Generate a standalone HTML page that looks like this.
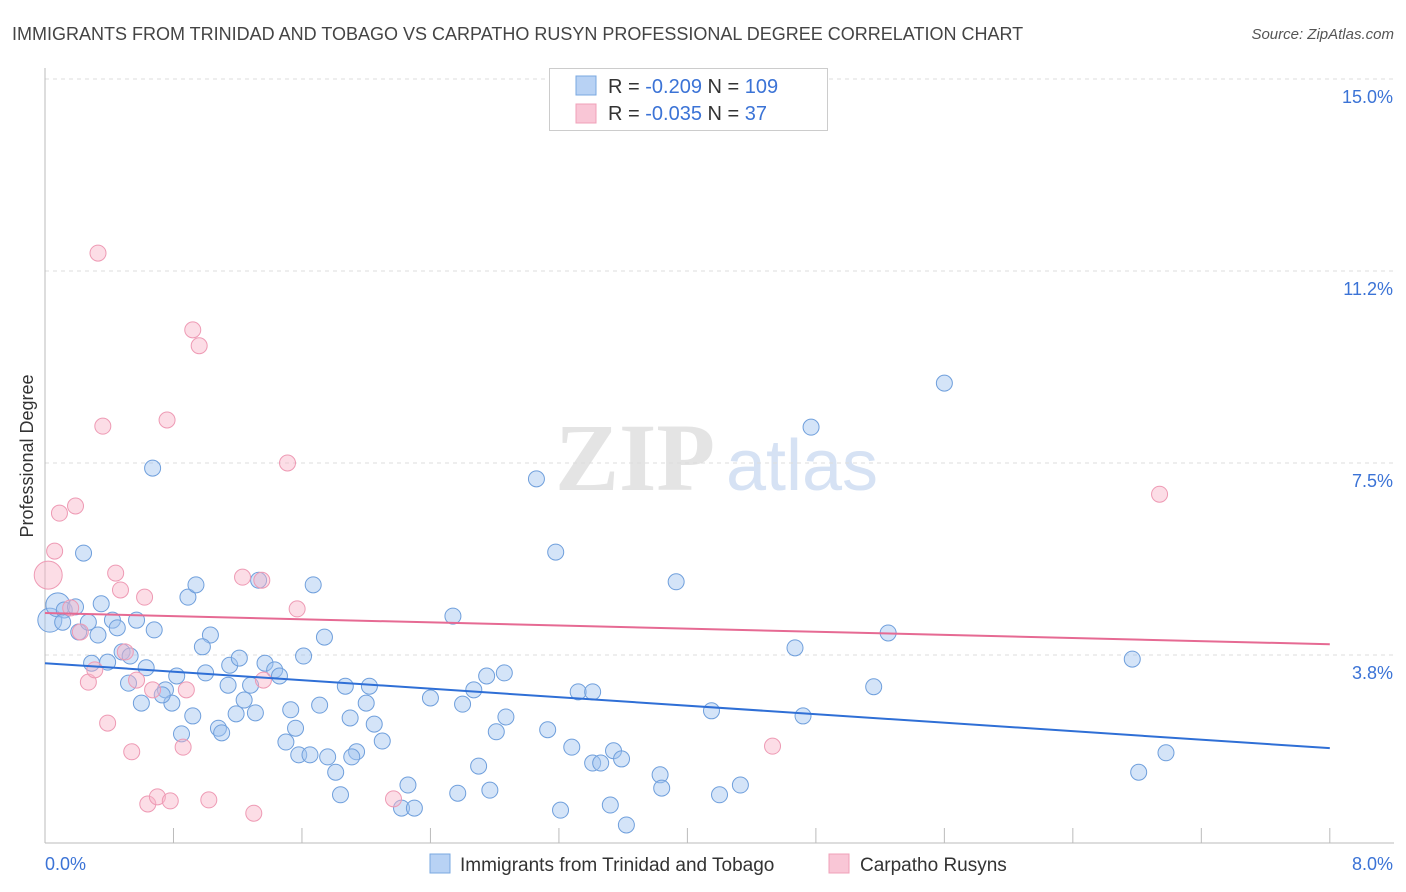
<!DOCTYPE html>
<html><head><meta charset="utf-8">
<style>
body{margin:0;background:#fff;font-family:"Liberation Sans",sans-serif;}
svg{display:block}
</style></head><body>
<svg id="c" width="1406" height="892" xmlns="http://www.w3.org/2000/svg">
<text x="12" y="40" font-size="18" fill="#444">IMMIGRANTS FROM TRINIDAD AND TOBAGO VS CARPATHO RUSYN PROFESSIONAL DEGREE CORRELATION CHART</text>
<text x="1394" y="39" font-size="15" fill="#555" font-style="italic" text-anchor="end">Source: ZipAtlas.com</text>
<text x="33" y="456" font-size="18" fill="#333" text-anchor="middle" transform="rotate(-90 33 456)">Professional Degree</text>
<g>
<text x="635" y="490" font-size="96" fill="#e4e4e4" text-anchor="middle" font-family="Liberation Serif,serif" font-weight="bold">ZIP</text>
<text x="802" y="490" font-size="72" fill="#d6e2f4" text-anchor="middle">atlas</text>
</g>
<g id="grid"></g>
<g id="axes"></g>
<g id="pts"></g>
<g id="lines"></g>
<g>
<rect x="549.5" y="68.5" width="278" height="62" fill="#fff" stroke="#ccc"/>
<rect x="576" y="76" width="20" height="19" fill="#b8d2f4" stroke="#7aa8e0"/>
<rect x="576" y="104" width="20" height="19" fill="#f9c6d6" stroke="#f0a0b8"/>
<text x="608" y="93" font-size="20" fill="#333">R = <tspan fill="#3b73d6">-0.209</tspan>   N = <tspan fill="#3b73d6">109</tspan></text>
<text x="608" y="120" font-size="20" fill="#333">R = <tspan fill="#3b73d6">-0.035</tspan>   N = <tspan fill="#3b73d6">  37</tspan></text>
</g>
<g>
<rect x="430" y="854" width="20" height="19" fill="#b8d2f4" stroke="#7aa8e0"/>
<text x="460" y="871" font-size="19" fill="#333">Immigrants from Trinidad and Tobago</text>
<rect x="829" y="854" width="20" height="19" fill="#f9c6d6" stroke="#f0a0b8"/>
<text x="860" y="871" font-size="19" fill="#333">Carpatho Rusyns</text>
</g>
</svg>
<script>
const blueX=[.03,.08,.12,.19,.11,.21,.27,.35,.33,.24,.42,.45,.57,.68,.67,.29,.39,.48,.53,.63,.52,.60,.75,.79,.82,.73,.89,.94,1.03,.98,1.00,.92,.85,1.08,1.10,1.14,1.15,1.21,1.19,1.24,1.28,1.31,1.33,1.37,1.43,1.46,1.53,1.56,1.50,1.58,1.65,1.61,1.67,1.71,1.74,1.76,1.81,1.84,1.87,1.90,1.94,1.91,2.00,2.02,2.05,2.10,2.26,2.22,2.30,2.40,2.54,2.57,2.60,2.67,2.70,2.75,2.77,2.81,2.86,2.87,3.06,3.13,3.18,3.21,3.28,3.32,3.41,3.41,3.46,3.52,3.54,3.59,3.62,3.83,3.84,3.93,4.15,4.20,4.33,4.67,4.72,4.77,5.16,5.25,5.60,6.77,6.81,6.98];
const blueY=[4.43,4.73,4.63,4.69,4.39,4.20,4.39,4.75,4.14,5.74,4.43,4.28,4.43,4.24,7.40,3.59,3.61,3.81,3.73,3.50,3.20,2.81,3.07,2.81,3.34,2.97,4.88,5.12,4.14,3.91,3.40,2.56,2.21,2.32,2.23,3.16,3.55,3.69,2.60,2.87,3.16,2.62,5.21,3.59,3.46,3.34,2.68,2.32,2.05,1.80,1.80,3.73,5.12,2.77,4.10,1.76,1.46,1.02,3.14,2.52,1.86,1.76,2.81,3.14,2.40,2.07,1.21,.76,.76,2.91,4.51,1.05,2.79,3.07,1.58,3.34,1.11,2.25,3.40,2.54,7.19,2.29,5.76,.72,1.95,3.03,3.03,1.64,1.64,.82,1.88,1.72,.43,1.41,1.15,5.18,2.66,1.02,1.21,3.89,2.56,8.20,3.13,4.18,9.06,3.67,1.46,1.84];
const pinkX=[.02,.06,.09,.19,.16,.22,.33,.36,.44,.47,.62,.27,.31,.39,.54,.50,.57,.67,.76,.88,.86,.92,.96,.64,.70,.78,1.02,1.23,1.35,1.36,1.51,1.57,1.30,2.17,4.53,6.94];
const pinkY=[5.31,5.78,6.52,6.66,4.67,4.20,11.60,8.22,5.35,5.02,4.88,3.22,3.46,2.42,1.86,3.81,3.26,3.07,8.34,3.07,1.95,10.10,9.79,.84,.98,.90,.92,5.27,5.21,3.26,7.50,4.65,.66,.94,1.97,6.89];
const blueLine=[3.59,1.93];
const pinkLine=[4.57,3.96];
const yTicks=[3.75,7.5,11.25,15];
const yTickLabels=["3.8%","7.5%","11.2%","15.0%"];
const xTickLabels=["0.0%","8.0%"];
const NS="http://www.w3.org/2000/svg";
const sx=v=>45+v*160.6, sy=v=>847-v*51.2;
function mk(t,a,p){const e=document.createElementNS(NS,t);for(const k in a)e.setAttribute(k,a[k]);p.appendChild(e);return e;}
const grid=document.getElementById('grid'),axes=document.getElementById('axes'),pts=document.getElementById('pts'),lines=document.getElementById('lines');
yTicks.forEach((v,i)=>{
 const l=mk('line',{x1:45,x2:1394,y1:sy(v),y2:sy(v),stroke:'#ddd','stroke-dasharray':'4,4'},grid);
 
 
 const t=mk('text',{x:1393,y:sy(v)+24,'font-size':18,fill:'#3b73d6','text-anchor':'end'},axes);
 t.textContent=yTickLabels[i];
 
 
});
let ax=mk('line',{x1:45,x2:45,y1:68,y2:843,stroke:'#bbb'},axes);


ax=mk('line',{x1:45,x2:1394,y1:843,y2:843,stroke:'#bbb'},axes);


for(let i=0;i<=10;i++){
 const x=sx(i*0.8);
 const tk=mk('line',{x1:x,x2:x,y1:828,y2:843,stroke:'#bbb'},axes);
 
 
}
[[0,'start',45],[1,'end',1393]].forEach(([i,a,x])=>{
 const t=mk('text',{x:x,y:870,'font-size':18,fill:'#3b73d6','text-anchor':a},axes);
 t.textContent=xTickLabels[i];
 
 
});
blueX.forEach((x,i)=>{
 const c=mk('circle',{cx:sx(x),cy:sy(blueY[i]),r:i<2?12:8,fill:'rgba(160,196,240,0.45)',stroke:'#6f9fdc','stroke-width':1},pts);
 
 
});
pinkX.forEach((x,i)=>{
 const c=mk('circle',{cx:sx(x),cy:sy(pinkY[i]),r:i<1?14:8,fill:'rgba(248,180,200,0.45)',stroke:'#ee9ab4','stroke-width':1},pts);
 
 
});
let ln=mk('line',{x1:sx(0),x2:sx(8),y1:sy(blueLine[0]),y2:sy(blueLine[1]),stroke:'#2f6fd6','stroke-width':2},lines);


ln=mk('line',{x1:sx(0),x2:sx(8),y1:sy(pinkLine[0]),y2:sy(pinkLine[1]),stroke:'#e66a93','stroke-width':2},lines);


</script>
</body></html>
